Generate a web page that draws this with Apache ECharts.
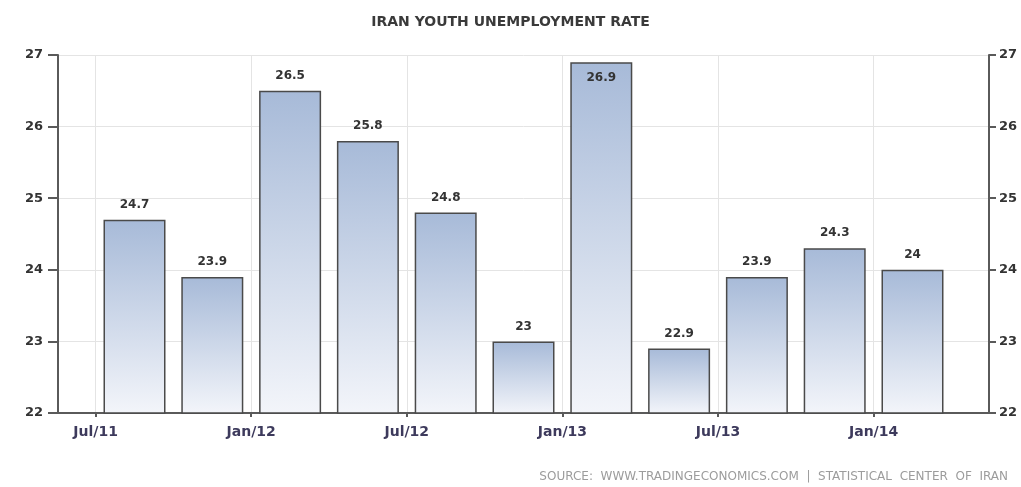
<!DOCTYPE html>
<html>
<head>
<meta charset="utf-8">
<script src="https://cdn.jsdelivr.net/npm/echarts@6/dist/echarts.min.js"></script>
<style>
  html, body { margin: 0; padding: 0; background: #fff; }
  #chart { width: 1021px; height: 487px; }
</style>
</head>
<body>
<div id="chart"></div>
<script>
// Iran youth unemployment rate, quarterly (%)
const quarters = ['2011Q3', '2011Q4', '2012Q1', '2012Q2', '2012Q3', '2012Q4',
                  '2013Q1', '2013Q2', '2013Q3', '2013Q4', '2014Q1'];
const rates = [24.7, 23.9, 26.5, 25.8, 24.8, 23, 26.9, 22.9, 23.9, 24.3, 24];

// Axis ticks on the month scale (months counted from Jan 2011)
const tickMonths = [6, 12, 18, 24, 30, 36];
const tickLabels = ['Jul/11', 'Jan/12', 'Jul/12', 'Jan/13', 'Jul/13', 'Jan/14'];
const yTicks = [22, 23, 24, 25, 26, 27];

const Y_MIN = 22, Y_MAX = 27;

// Quarter midpoint expressed in months since Jan 2011
function quarterMid(q) {
  const year = +q.slice(0, 4);
  const n = +q.slice(5);
  return (year - 2011) * 12 + (n - 1) * 3 + 1.5;
}

const barData = quarters.map((q, i) => {
  const item = { value: [quarterMid(q), rates[i]] };
  // a label that would leave the plot sits inside the bar top
  if (rates[i] + 0.25 > Y_MAX) {
    item.label = { position: 'insideTop', distance: 10 };
  }
  return item;
});

const chart = echarts.init(document.getElementById('chart'));

const axisColor = '#5a5a5a';

chart.setOption({
  animation: false,
  backgroundColor: '#fff',
  title: [{
    text: 'IRAN YOUTH UNEMPLOYMENT RATE',
    left: 'center',
    top: 10,
    textStyle: { fontFamily: 'DejaVu Sans', fontWeight: 'bold', fontSize: 14, color: '#3a3a3a' }
  }, {
    text: 'SOURCE:  WWW.TRADINGECONOMICS.COM  |  STATISTICAL  CENTER  OF  IRAN',
    right: 8,
    top: 466,
    textStyle: { fontFamily: 'DejaVu Sans', fontWeight: 'normal', fontSize: 12, color: '#9c9c9c' }
  }],
  grid: { left: 58, right: 32, top: 55, bottom: 74 },
  xAxis: {
    type: 'value',
    min: 4.55,
    max: 40.45,
    axisLine: { show: true, lineStyle: { color: axisColor, width: 2 } },
    axisTick: {
      show: true, length: 4, customValues: tickMonths,
      lineStyle: { color: axisColor, width: 2 }
    },
    axisLabel: {
      customValues: tickMonths,
      color: '#3d3a5c',
      fontFamily: 'DejaVu Sans',
      fontWeight: 'bold',
      fontSize: 14,
      margin: 12,
      formatter: v => tickLabels[tickMonths.indexOf(v)] || ''
    },
    splitLine: { show: true, lineStyle: { color: '#e4e4e4', width: 1 } }
  },
  yAxis: [{
    type: 'value',
    position: 'left',
    min: Y_MIN,
    max: Y_MAX,
    interval: 1,
    axisLine: { show: true, lineStyle: { color: axisColor, width: 2 } },
    axisTick: { show: true, length: 10, lineStyle: { color: axisColor, width: 2 } },
    axisLabel: { color: '#333', fontFamily: 'DejaVu Sans', fontWeight: 'bold', fontSize: 13, margin: 15,
                 formatter: v => yTicks.includes(v) ? String(v) : '' },
    splitLine: { show: true, lineStyle: { color: '#e4e4e4', width: 1 } }
  }, {
    type: 'value',
    position: 'right',
    min: Y_MIN,
    max: Y_MAX,
    interval: 1,
    axisLine: { show: true, lineStyle: { color: axisColor, width: 2 } },
    axisTick: { show: true, length: 7, lineStyle: { color: axisColor, width: 2 } },
    axisLabel: { color: '#333', fontFamily: 'DejaVu Sans', fontWeight: 'bold', fontSize: 13, margin: 10,
                 formatter: v => yTicks.includes(v) ? String(v) : '' },
    splitLine: { show: false }
  }],
  series: [{
    type: 'bar',
    yAxisIndex: 0,
    barWidth: 62,
    data: barData,
    itemStyle: {
      color: new echarts.graphic.LinearGradient(0, 0, 0, 1, [
        { offset: 0, color: '#a7bad8' },
        { offset: 1, color: '#f3f5fa' }
      ]),
      borderColor: '#4a4a4a',
      borderWidth: 1.5
    },
    label: {
      show: true,
      position: 'top',
      distance: 9,
      color: '#333',
      fontFamily: 'DejaVu Sans',
      fontWeight: 'bold',
      fontSize: 12,
      formatter: p => String(p.value[1])
    }
  }]
});
</script>
</body>
</html>
